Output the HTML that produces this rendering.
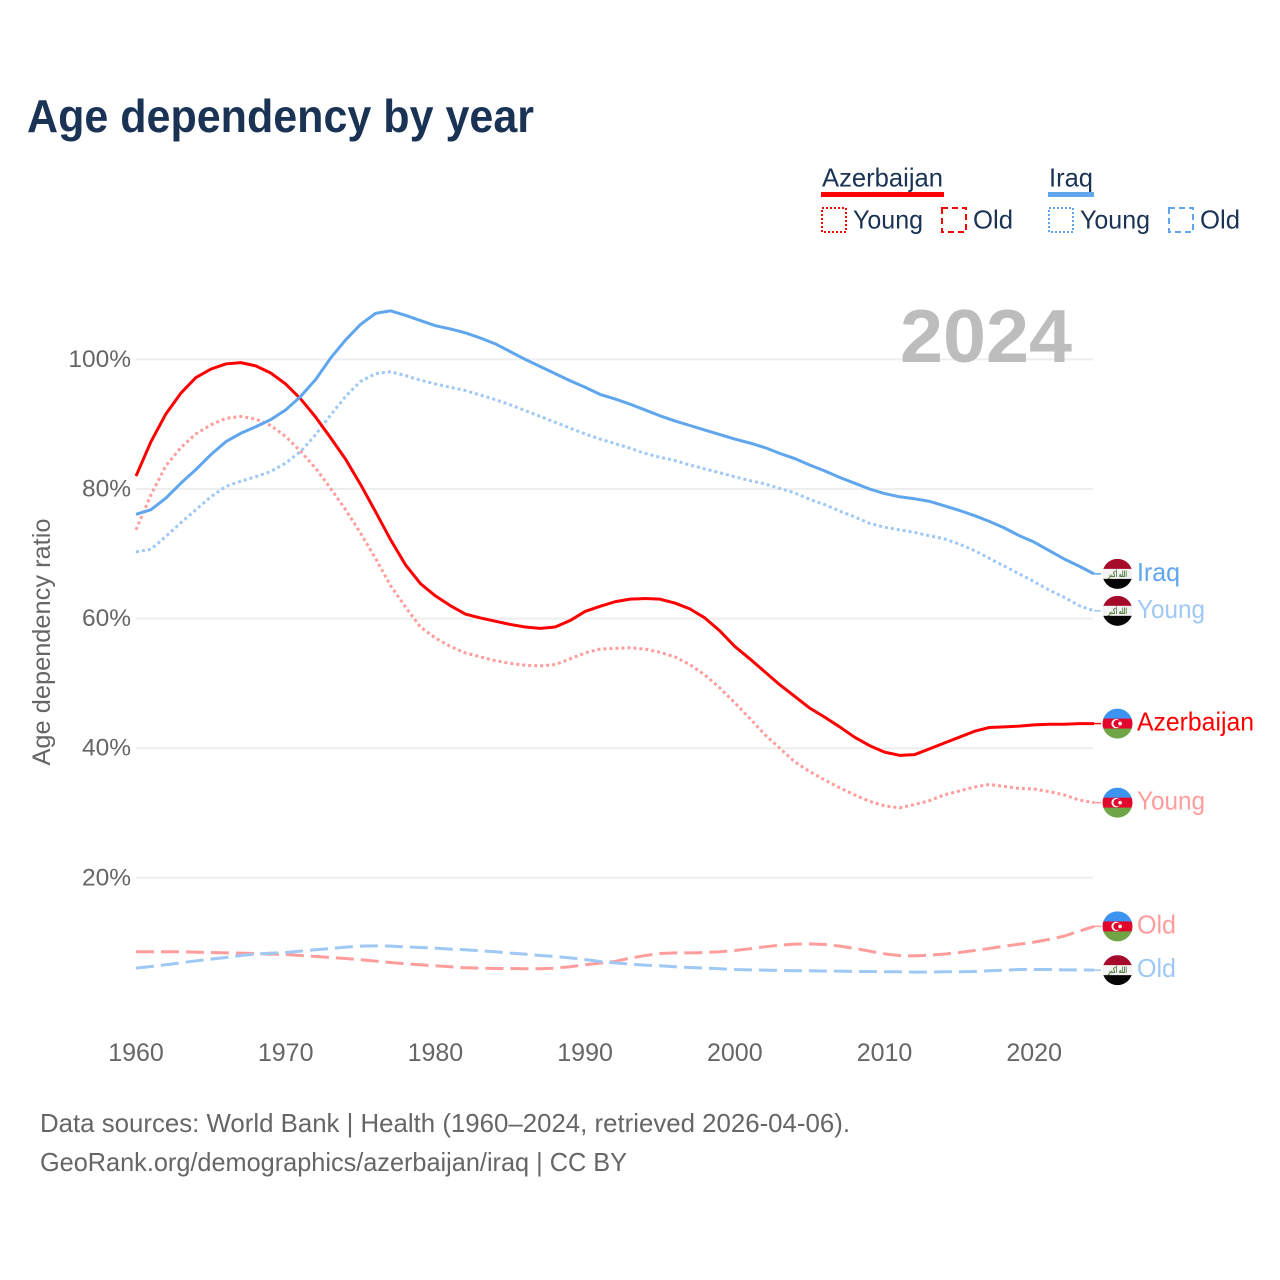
<!DOCTYPE html>
<html lang="en">
<head>
<meta charset="utf-8">
<title>Age dependency by year</title>
<style>
html,body{margin:0;padding:0;background:#fff;}
svg{display:block;font-family:"Liberation Sans",sans-serif;}
</style>
</head>
<body>
<svg id="chart" xmlns="http://www.w3.org/2000/svg" width="1280" height="1280" viewBox="0 0 1280 1280">
  <rect x="0" y="0" width="1280" height="1280" fill="#ffffff"/>
  <text x="27" y="132" font-size="46" font-weight="700" fill="#1a3355" textLength="507" lengthAdjust="spacingAndGlyphs">Age dependency by year</text>

  <g>
    <text x="822" y="186.5" font-size="26" fill="#1a3355" textLength="121" lengthAdjust="spacingAndGlyphs">Azerbaijan</text>
    <rect x="821" y="192" width="123" height="5" fill="#ff0000"/>
    <rect x="822" y="208" width="24" height="24" fill="none" stroke="#ff0000" stroke-width="2" stroke-dasharray="2 2"/>
    <text x="853" y="228.5" font-size="26" fill="#1a3355" textLength="70" lengthAdjust="spacingAndGlyphs">Young</text>
    <rect x="942" y="208" width="24" height="24" fill="none" stroke="#ff0000" stroke-width="2" stroke-dasharray="6 4"/>
    <text x="973" y="228.5" font-size="26" fill="#1a3355" textLength="40" lengthAdjust="spacingAndGlyphs">Old</text>
    <text x="1049" y="186.5" font-size="26" fill="#1a3355" textLength="44" lengthAdjust="spacingAndGlyphs">Iraq</text>
    <rect x="1048" y="192" width="46" height="5" fill="#5fa6ee"/>
    <rect x="1049" y="208" width="24" height="24" fill="none" stroke="#5fa6ee" stroke-width="2" stroke-dasharray="2 2"/>
    <text x="1080" y="228.5" font-size="26" fill="#1a3355" textLength="70" lengthAdjust="spacingAndGlyphs">Young</text>
    <rect x="1169" y="208" width="24" height="24" fill="none" stroke="#5fa6ee" stroke-width="2" stroke-dasharray="6 4"/>
    <text x="1200" y="228.5" font-size="26" fill="#1a3355" textLength="40" lengthAdjust="spacingAndGlyphs">Old</text>
  </g>

  <g id="grid"></g>
  <text x="900" y="362" font-size="75" font-weight="700" fill="#bdbdbd" textLength="172" lengthAdjust="spacingAndGlyphs">2024</text>
  <g id="yticks"></g>
  <g id="xticks"></g>
  <text transform="translate(50,642) rotate(-90)" text-anchor="middle" font-size="25" fill="#666666" textLength="247" lengthAdjust="spacingAndGlyphs">Age dependency ratio</text>
  <g id="lines"></g>
  <g id="ends"></g>

  <text x="40" y="1132" font-size="26" fill="#666666" textLength="810" lengthAdjust="spacingAndGlyphs">Data sources: World Bank | Health (1960–2024, retrieved 2026-04-06).</text>
  <text x="40" y="1171" font-size="26" fill="#666666" textLength="587" lengthAdjust="spacingAndGlyphs">GeoRank.org/demographics/azerbaijan/iraq | CC BY</text>
</svg>
<script>
const years = [
1960,1961,1962,1963,1964,1965,1966,1967,1968,1969,
1970,1971,1972,1973,1974,1975,1976,1977,1978,1979,
1980,1981,1982,1983,1984,1985,1986,1987,1988,1989,
1990,1991,1992,1993,1994,1995,1996,1997,1998,1999,
2000,2001,2002,2003,2004,2005,2006,2007,2008,2009,
2010,2011,2012,2013,2014,2015,2016,2017,2018,2019,
2020,2021,2022,2023,2024];
const azerbaijanTotal = [
82.0,87.3,91.6,94.8,97.2,98.5,99.3,99.5,99.0,97.9,
96.2,93.9,91.1,87.9,84.6,80.7,76.5,72.2,68.3,65.4,
63.5,62.0,60.7,60.1,59.6,59.1,58.7,58.5,58.7,59.7,
61.1,61.9,62.6,63.0,63.1,63.0,62.4,61.5,60.1,58.1,
55.7,53.8,51.8,49.8,48.0,46.2,44.8,43.3,41.7,40.4,
39.4,38.9,39.0,39.9,40.8,41.7,42.6,43.2,43.3,43.4,
43.6,43.7,43.7,43.8,43.8];
const azerbaijanYoung = [
73.7,79.1,83.6,86.4,88.5,89.9,90.9,91.2,90.8,89.8,
88.1,85.8,83.2,80.1,76.8,73.2,69.3,65.1,61.8,58.7,
57.0,55.7,54.7,54.1,53.5,53.1,52.8,52.7,52.9,53.8,
54.7,55.3,55.4,55.5,55.3,54.8,54.1,52.9,51.3,49.3,
47.0,44.6,42.1,40.0,37.9,36.4,35.1,33.9,32.8,31.8,
31.1,30.8,31.3,31.9,32.8,33.4,34.0,34.4,34.1,33.8,
33.7,33.3,32.8,32.0,31.6];
const azerbaijanOld = [
8.58,8.58,8.58,8.58,8.53,8.47,8.42,8.37,8.32,8.22,
8.17,8.01,7.86,7.70,7.55,7.35,7.14,6.93,6.73,6.58,
6.42,6.27,6.11,6.06,6.01,6.01,5.96,5.96,6.06,6.27,
6.58,6.83,7.09,7.60,8.00,8.32,8.42,8.42,8.47,8.58,
8.78,9.04,9.35,9.60,9.76,9.81,9.70,9.45,9.10,8.68,
8.27,8.00,7.96,8.06,8.22,8.47,8.78,9.10,9.45,9.76,
10.07,10.5,11.0,11.77,12.5];
const iraqTotal = [
76.1,76.8,78.6,80.9,83.0,85.3,87.3,88.6,89.6,90.7,
92.2,94.3,96.9,100.2,103.0,105.4,107.1,107.5,106.8,106.0,
105.2,104.7,104.1,103.3,102.4,101.2,100.0,98.9,97.8,96.7,
95.7,94.6,93.9,93.1,92.2,91.3,90.5,89.8,89.1,88.4,
87.7,87.1,86.4,85.5,84.7,83.7,82.8,81.8,80.9,80.0,
79.3,78.8,78.5,78.1,77.4,76.7,75.9,75.0,74.0,72.8,
71.8,70.5,69.2,68.1,66.9];
const iraqYoung = [
70.3,70.7,72.7,74.8,76.8,78.8,80.4,81.2,81.9,82.7,
84.0,85.8,88.4,91.4,94.3,96.6,97.8,98.1,97.5,96.8,
96.2,95.7,95.2,94.5,93.8,93.0,92.1,91.2,90.3,89.4,
88.5,87.7,87.0,86.3,85.5,84.9,84.4,83.7,83.1,82.5,
81.9,81.3,80.8,80.1,79.4,78.4,77.6,76.6,75.7,74.7,
74.1,73.7,73.3,72.8,72.3,71.5,70.5,69.3,68.1,66.9,
65.7,64.4,63.3,62.0,61.2];
const iraqOld = [
6.06,6.32,6.58,6.88,7.19,7.45,7.70,8.01,8.22,8.37,
8.47,8.68,8.89,9.09,9.30,9.45,9.50,9.45,9.35,9.25,
9.14,8.99,8.89,8.73,8.58,8.37,8.22,8.01,7.86,7.65,
7.39,7.09,6.88,6.68,6.52,6.42,6.27,6.16,6.06,5.96,
5.85,5.80,5.75,5.70,5.65,5.65,5.60,5.60,5.55,5.55,
5.50,5.50,5.44,5.44,5.50,5.50,5.55,5.65,5.75,5.85,
5.85,5.85,5.80,5.80,5.75];
const yTickValues = [20,40,60,80,100];
const yTickLabels = ["20%","40%","60%","80%","100%"];
const xTickValues = [1960,1970,1980,1990,2000,2010,2020];
const xTickLabels = ["1960","1970","1980","1990","2000","2010","2020"];

const NS = "http://www.w3.org/2000/svg";
function xScale(year){ return 136 + (year - 1960) * 14.97; }
function yScale(v){ return 1007.4 - 6.48 * v; }
function make(tag, attrs, parent){
  const e = document.createElementNS(NS, tag);
  for (const k in attrs) e.setAttribute(k, attrs[k]);
  parent.appendChild(e);
  return e;
}

const gridG = document.getElementById("grid");
const yG = document.getElementById("yticks");
const xG = document.getElementById("xticks");
const linesG = document.getElementById("lines");
const endsG = document.getElementById("ends");

yTickValues.forEach(function(v, i){
  const g = make("line", {x1:136, x2:1093, y1:yScale(v), y2:yScale(v), stroke:"#eeeeee", "stroke-width":2}, gridG);
  
  
  const t = make("text", {x:131, y:yScale(v)+7.5, "text-anchor":"end", "font-size":24.5, fill:"#666666"}, yG);
  
  
  t.textContent = yTickLabels[i];
});
xTickValues.forEach(function(y, i){
  const t = make("text", {x:xScale(y), y:1061, "text-anchor":"middle", "font-size":25, fill:"#666666"}, xG);
  
  
  t.textContent = xTickLabels[i];
});

function drawLine(values, color, dash, name){
  const d = values.map(function(v, i){
    return (i ? "L" : "M") + xScale(years[i]).toFixed(2) + " " + yScale(v).toFixed(2);
  }).join("");
  const p = make("path", {d:d, fill:"none", stroke:color, "stroke-width":3, "stroke-linejoin":"round"}, linesG);
  if (dash) p.setAttribute("stroke-dasharray", dash);
  
  
}
drawLine(azerbaijanOld, "#ff9c9c", "18 7", "azerbaijan-old-line");
drawLine(iraqOld, "#9fc9f4", "18 7", "iraq-old-line");
drawLine(azerbaijanYoung, "#ff9c9c", "3 3", "azerbaijan-young-line");
drawLine(iraqYoung, "#9fc9f4", "3 3", "iraq-young-line");
drawLine(azerbaijanTotal, "#ff0000", null, "azerbaijan-total-line");
drawLine(iraqTotal, "#5fa6ee", null, "iraq-total-line");

let clipCount = 0;
function drawFlag(kind, cy){
  const cx = 1117.5, r = 15;
  const id = "flagclip" + (clipCount++);
  const cp = make("clipPath", {id:id}, endsG);
  make("circle", {cx:cx, cy:cy, r:r}, cp);
  const g = make("g", {"clip-path":"url(#" + id + ")"}, endsG);
  
  
  const colors = kind === "azerbaijan" ? ["#3c93f0","#e2062c","#6fa544"] : ["#a50a2a","#f4f4f4","#050505"];
  colors.forEach(function(c, i){
    make("rect", {x:cx-r, y:cy-r+i*(2*r/3), width:2*r, height:2*r/3+0.3, fill:c}, g);
  });
  if (kind === "azerbaijan") {
    make("circle", {cx:cx-1.5, cy:cy, r:4.6, fill:"#ffffff"}, g);
    make("circle", {cx:cx-0.4, cy:cy, r:3.7, fill:"#e2062c"}, g);
    make("circle", {cx:cx+2.6, cy:cy, r:1.8, fill:"#ffffff"}, g);
  } else {
    const s = make("text", {x:cx, y:cy+3, "text-anchor":"middle", "font-size":8.5, "font-weight":"700", fill:"#4e7a3a", textLength:19, lengthAdjust:"spacingAndGlyphs", direction:"rtl", "font-family":"'DejaVu Sans',sans-serif"}, g);
    s.textContent = "الله أكبر";
  }
}
function drawEnd(values, color, stubColor, kind, label, width, name){
  const yy = yScale(values[values.length-1]);
  const c = make("line", {x1:xScale(2024), x2:1101, y1:yy, y2:yy, stroke:stubColor, "stroke-width":1.5}, endsG);
  
  
  drawFlag(kind, yy);
  const t = make("text", {x:1137, y:yy+7, "font-size":26, fill:color, textLength:width, lengthAdjust:"spacingAndGlyphs"}, endsG);
  
  
  t.textContent = label;
}
drawEnd(iraqTotal, "#5fa6ee", "#5fa6ee", "iraq", "Iraq", 43, "iraq-total");
drawEnd(iraqYoung, "#9fc9f4", "#9fc9f4", "iraq", "Young", 68, "iraq-young");
drawEnd(azerbaijanTotal, "#ff0000", "#ff0000", "azerbaijan", "Azerbaijan", 117, "azerbaijan-total");
drawEnd(azerbaijanYoung, "#ff9c9c", "#ff9c9c", "azerbaijan", "Young", 68, "azerbaijan-young");
drawEnd(azerbaijanOld, "#ff9c9c", "#ff9c9c", "azerbaijan", "Old", 39, "azerbaijan-old");
drawEnd(iraqOld, "#9fc9f4", "#9fc9f4", "iraq", "Old", 39, "iraq-old");
</script>
</body>
</html>
